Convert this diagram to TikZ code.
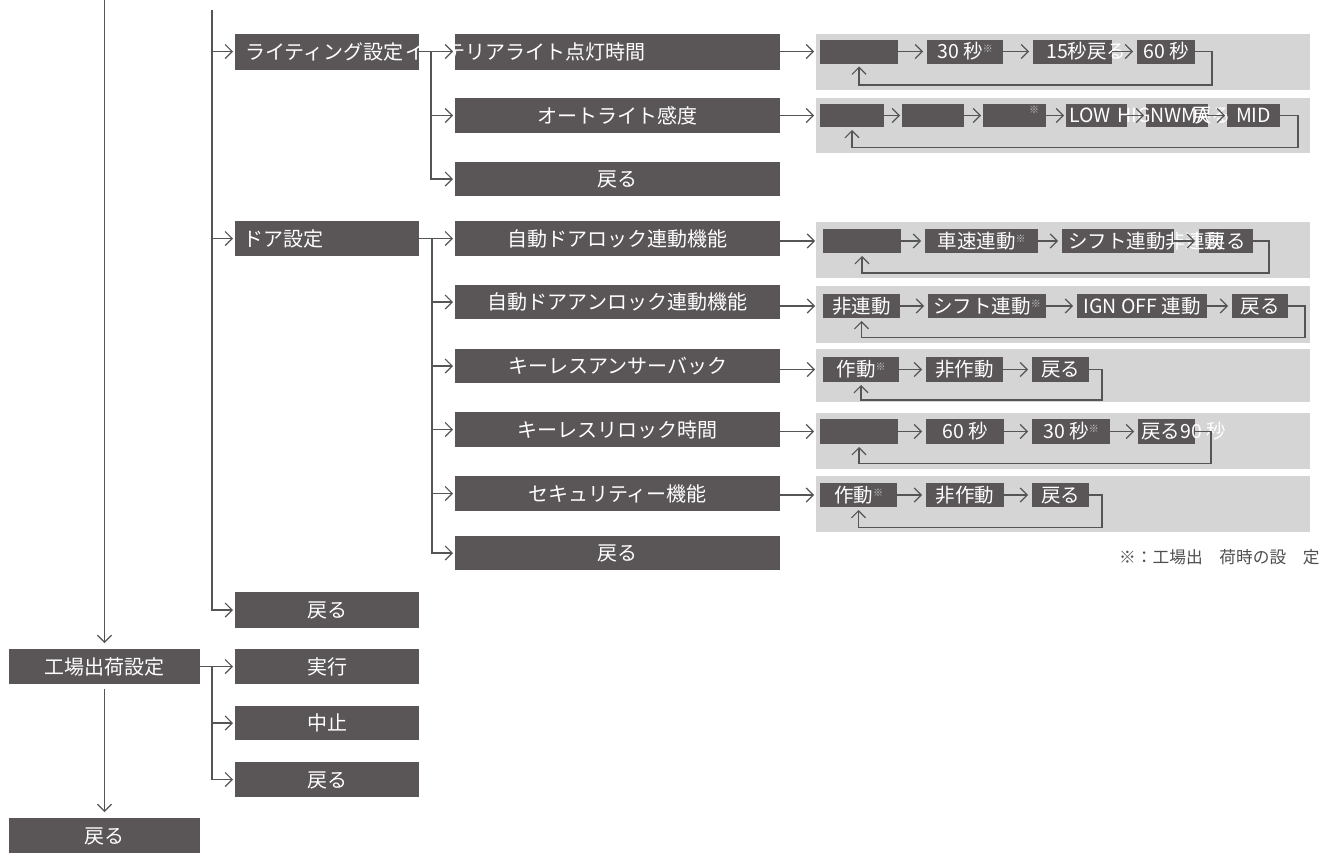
\documentclass[tikz,border=0pt]{standalone}
\usepackage{fontspec}
\setmainfont{Noto Sans CJK JP}
\usetikzlibrary{arrows.meta}
\definecolor{boxc}{HTML}{5A5657}
\definecolor{panc}{HTML}{D5D5D5}
\definecolor{linec}{HTML}{555555}
\definecolor{komec}{HTML}{C8C8C8}
\definecolor{notec}{HTML}{4E4E4E}
\newcommand\kome{\raisebox{6pt}{\fontsize{10}{10}\selectfont\textcolor{komec}{※}}}
\newcommand\bx[6]{\node[#6, minimum width={(#4-#2)*1pt}, minimum height={(#5-#3)*1pt}] (#1) at ({(#2+#4)/2},{(#3+#5)/2})}
\begin{document}
\begin{tikzpicture}[x=1pt,y=-1pt,
  mbox/.style={fill=boxc, text=white, inner sep=0pt, outer sep=0pt, font=\fontsize{20}{22}\selectfont, text height=17.5pt, text depth=2.5pt},
  pbox/.style={fill=boxc, text=white, inner sep=0pt, outer sep=0pt, font=\fontsize{19.5}{20}\selectfont, text height=17pt, text depth=2.5pt},
  panel/.style={fill=panc, inner sep=0pt, outer sep=0pt},
  wtxt/.style={text=white, inner sep=0pt, anchor=west, font=\fontsize{20}{22}\selectfont, text height=17.5pt, text depth=2.5pt},
  wtxtp/.style={text=white, inner sep=0pt, anchor=west, font=\fontsize{19.5}{20}\selectfont, text height=17pt, text depth=2.5pt},
  note/.style={text=notec, inner sep=0pt, anchor=west, font=\fontsize{16.7}{18}\selectfont},
  arr/.style={draw=linec, line width=1.2pt, -{Straight Barb[length=7pt,width=14pt]}, shorten >=2pt},
  parr/.style={arr, shorten >=4pt},
  retarr/.style={arr, shorten >=3pt},
]
\fill[white] (0,0) rectangle (1334,860);
\useasboundingbox (0,0) rectangle (1334,860);

% ---------- main boxes ----------
\bx{fac}{9}{649}{200}{684}{mbox}{工場出荷設定};
\bx{back1}{9}{818}{200}{853}{mbox}{戻る};
\bx{light}{235}{33.5}{419}{69.5}{mbox}{};
\bx{door}{235}{221}{419}{256}{mbox}{};
\bx{ret2}{235}{592}{419}{628}{mbox}{戻る};
\bx{exec}{235}{649}{419}{684}{mbox}{実行};
\bx{abort}{235}{706}{419}{740}{mbox}{中止};
\bx{ret3}{235}{762}{419}{797}{mbox}{戻る};
\bx{interior}{455}{33.5}{780}{69.5}{mbox}{};
\bx{auto}{455}{98}{780}{133}{mbox}{オートライト感度\hspace{10pt}};
\bx{ret4}{455}{162}{780}{196}{mbox}{戻る};
\bx{dlock}{455}{221}{780}{256}{mbox}{自動ドアロック連動機能\hspace{10pt}};
\bx{dunlock}{455}{285}{780}{319}{mbox}{自動ドアアンロック連動機能\hspace{10pt}};
\bx{kab}{455}{349}{780}{383}{mbox}{キーレスアンサーバック\hspace{10pt}};
\bx{krl}{455}{412}{780}{447}{mbox}{キーレスリロック時間\hspace{10pt}};
\bx{sec}{455}{476}{780}{511}{mbox}{セキュリティー機能\hspace{10pt}};
\bx{ret5}{455}{536}{780}{570}{mbox}{戻る};

% ---------- panels ----------
\bx{p1}{816}{34}{1310}{90}{panel}{};
\bx{p2}{816}{98}{1310}{153}{panel}{};
\bx{p3}{816}{222}{1310}{278}{panel}{};
\bx{p4}{816}{286}{1310}{343}{panel}{};
\bx{p5}{816}{349}{1310}{402}{panel}{};
\bx{p6}{816}{413}{1310}{469}{panel}{};
\bx{p7}{816}{476}{1310}{532}{panel}{};

% row a
\bx{a1}{820}{39.5}{898}{63.5}{pbox}{};
\bx{a2}{927}{39.5}{1003}{63.5}{pbox}{30 秒\kome};
\bx{a3}{1033}{39.5}{1112}{63.5}{pbox}{};
\bx{a4}{1137}{39.5}{1195}{63.5}{pbox}{60 秒};
% row b
\bx{b1}{820}{104}{884}{127}{pbox}{};
\bx{b2}{902}{104}{964}{127}{pbox}{};
\bx{b3}{983}{104}{1046}{127}{pbox}{};
\bx{b4}{1066}{104}{1127}{127}{pbox}{};
\bx{b5}{1146}{104}{1208}{127}{pbox}{};
\bx{b6}{1227}{104}{1280}{127}{pbox}{MID};
% row c
\bx{c1}{823}{229}{901}{253}{pbox}{};
\bx{c2}{925}{229}{1038}{253}{pbox}{車速連動\kome};
\bx{c3}{1062}{229}{1174}{253}{pbox}{};
\bx{c4}{1199}{229}{1253}{253}{pbox}{戻る};
% row d
\bx{d1}{823}{294}{900}{318}{pbox}{非連動};
\bx{d2}{928}{294}{1046}{318}{pbox}{シフト連動\kome};
\bx{d3}{1077}{294}{1207}{318}{pbox}{IGN OFF 連動};
\bx{d4}{1232}{294}{1288}{318}{pbox}{戻る};
% row e
\bx{e1}{823}{357}{899}{382}{pbox}{作動\kome};
\bx{e2}{926}{357}{1003}{382}{pbox}{非作動};
\bx{e3}{1032}{357}{1089}{382}{pbox}{戻る};
% row f
\bx{f1}{820}{419}{898}{444}{pbox}{};
\bx{f2}{926}{419}{1004}{444}{pbox}{60 秒};
\bx{f3}{1032}{419}{1110}{444}{pbox}{30 秒\kome};
\bx{f4}{1138}{419}{1195}{444}{pbox}{};
% row g
\bx{g1}{820}{483}{897}{507}{pbox}{作動\kome};
\bx{g2}{926}{483}{1004}{507}{pbox}{非作動};
\bx{g3}{1032}{483}{1089}{507}{pbox}{戻る};

% ---------- free texts ----------
\node[wtxt] (tlight) at (245,51.5) {ライティング設定};
\node[wtxt] (tint) at (405,51.5) {インテリアライト点灯時間};
\node[wtxt] (tdoor) at (243,238.5) {ドア設定};
\node[wtxtp] (t15) at (1046,51.5) {15秒戻る};
\node[wtxtp] (tlow) at (1069,115.5) {LOW};
\node[wtxtp] (thig) at (1117,115.5) {HIG};
\node[wtxtp] (tnm) at (1150,115.5) {NWMA};
\node[wtxtp] (tret) at (1192,115.5) {戻る};
\node[inner sep=0pt, text=komec, font=\fontsize{10}{10}\selectfont] (kb3) at (1034,110) {※};
\node[wtxtp] (tshift) at (1068,241) {シフト連動非連動};
\node[wtxtp] (t90) at (1141,431.5) {戻る90 秒};
\node[note] (note) at (1119,557) {※：工場出　荷時の設　定};

% ---------- connectors: column 1 ----------
\coordinate (c1top) at (104.5,0);
\draw[arr, shorten >=6pt] (c1top) -- (fac.north);
\draw[arr, shorten <=5pt, shorten >=6pt] (fac.south) -- (back1.north);

% column 2
\coordinate (c2top) at (212,10);
\draw[arr] (c2top) |- (ret2.west);
\draw[arr] (c2top |- light.west) -- (light.west);
\draw[arr] (c2top |- door.west) -- (door.west);
\coordinate (fb) at (212,666.5);
\draw[arr] (fac.east) -- (exec.west);
\draw[arr] (fb) |- (abort.west);
\draw[arr] (fb) |- (ret3.west);

% column 3
\coordinate (lb) at (431,51.5);
\draw[arr] (light.east) -- (interior.west);
\draw[arr] (lb) |- (auto.west);
\draw[arr] (lb) |- (ret4.west);
\coordinate (db) at (432,238.5);
\draw[arr] (door.east) -- (dlock.west);
\draw[arr] (db) |- (dunlock.west);
\draw[arr] (db) |- (kab.west);
\draw[arr] (db) |- (krl.west);
\draw[arr] (db) |- (sec.west);
\draw[arr] (db) |- (ret5.west);

% to panels
\draw[parr, shorten >=6pt] (interior.east |- a1.west) -- (a1.west);
\draw[parr, shorten >=6pt] (auto.east |- b1.west) -- (b1.west);
\draw[parr, shorten >=8pt] (dlock.east |- c1.west) -- (c1.west);
\draw[parr, shorten >=8pt] (dunlock.east |- d1.west) -- (d1.west);
\draw[parr, shorten >=8pt] (kab.east |- e1.west) -- (e1.west);
\draw[parr, shorten >=6pt] (krl.east |- f1.west) -- (f1.west);
\draw[parr, shorten >=6pt] (sec.east |- g1.west) -- (g1.west);

% inside panels
\draw[parr] (a1.east) -- (a2.west);
\draw[parr] (a2.east) -- (a3.west);
\draw[parr] (a3.east) -- (a4.west);
\draw[arr] (b1.east) -- (b2.west);
\draw[arr] (b2.east) -- (b3.west);
\draw[arr] (b3.east) -- (b4.west);
\draw[arr] (b4.east) -- (b5.west);
\draw[arr] (b5.east) -- (b6.west);
\draw[parr] (c1.east) -- (c2.west);
\draw[parr] (c2.east) -- (c3.west);
\draw[parr] (c3.east) -- (c4.west);
\draw[parr] (d1.east) -- (d2.west);
\draw[parr] (d2.east) -- (d3.west);
\draw[parr] (d3.east) -- (d4.west);
\draw[parr] (e1.east) -- (e2.west);
\draw[parr] (e2.east) -- (e3.west);
\draw[parr] (f1.east) -- (f2.west);
\draw[parr] (f2.east) -- (f3.west);
\draw[parr] (f3.east) -- (f4.west);
\draw[parr] (g1.east) -- (g2.west);
\draw[parr] (g2.east) -- (g3.west);

% return loops
\coordinate (ra) at (1212,85);
\coordinate (rb) at (1298,147.5);
\coordinate (rc) at (1269,273);
\coordinate (rd) at (1305,337.5);
\coordinate (re) at (1102,400);
\coordinate (rf) at (1211,463.5);
\coordinate (rg) at (1102,527.5);
\draw[retarr] (a4.east) -| (ra) -| (a1.south);
\draw[retarr] (b6.east) -| (rb) -| (b1.south);
\draw[retarr] (c4.east) -| (rc) -| (c1.south);
\draw[retarr] (d4.east) -| (rd) -| (d1.south);
\draw[retarr] (e3.east) -| (re) -| (e1.south);
\draw[retarr] (f4.east) -| (rf) -| (f1.south);
\draw[retarr] (g3.east) -| (rg) -| (g1.south);
\end{tikzpicture}
\end{document}
